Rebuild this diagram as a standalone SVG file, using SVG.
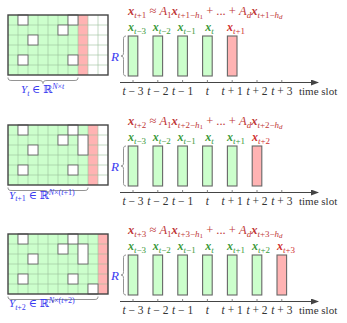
<svg xmlns="http://www.w3.org/2000/svg" xmlns:xlink="http://www.w3.org/1999/xlink" width="347" height="323" viewBox="0 0 347 323">
<style>
.bg{fill:#ffffff}
.green{fill:#ccffcc}
.red{fill:#ffb3b3}
.white{fill:#ffffff}
.gl{fill:none;stroke:#9cc09c;stroke-width:0.6}
.hole{fill:#ffffff;stroke:#666;stroke-width:0.9}
.frame{fill:none;stroke:#444;stroke-width:1.4}
.bar-g{fill:#ccffcc;stroke:#666;stroke-width:1.1}
.bar-r{fill:#ffb3b3;stroke:#666;stroke-width:1.1}
.brace{fill:none;stroke:#888;stroke-width:0.9}
.axis{fill:none;stroke:#444;stroke-width:1.1}
.tick{fill:none;stroke:#666;stroke-width:0.8}
.math{font-family:"Liberation Serif","DejaVu Serif",serif}
.tl{font-size:11.5px;fill:#333;text-anchor:middle}
.ts{font-size:11px;fill:#333}
.fr{font-size:12.5px;fill:#c03838}
.xg{font-size:12px;fill:#3a9a3a;text-anchor:middle}
.xr{font-size:12px;fill:#d03030;text-anchor:middle}
.bl{font-size:11px;fill:#3a3af0}
.rl{font-size:13px;fill:#3a3af0;font-style:italic}
.bx{font-weight:bold;font-style:italic}
.it{font-style:italic}
</style>
<defs>
<marker id="arr" viewBox="0 0 8 6" refX="7" refY="3" markerWidth="8" markerHeight="6" markerUnits="userSpaceOnUse" orient="auto">
<path d="M0,0 L8,3 L0,6 Z" fill="#444"/>
</marker>
<path id="gridlines" d="M18,15V75M28,15V75M38,15V75M48,15V75M58,15V75M68,15V75M78,15V75M88,15V75M98,15V75M8,25H108M8,35H108M8,45H108M8,55H108M8,65H108"/>
<g id="holes">
<rect class="hole" x="18" y="15" width="10" height="10"/>
<rect class="hole" x="68" y="15" width="10" height="10"/>
<rect class="hole" x="58" y="25" width="10" height="10"/>
<rect class="hole" x="28" y="35" width="10" height="10"/>
<rect class="hole" x="18" y="55" width="10" height="10"/>
<rect class="hole" x="68" y="55" width="10" height="10"/>
</g>
<path id="rbrace" d="M126,36 C123.5,36 123.5,37.5 123.5,40 L123.5,52.5 C123.5,55 122.8,56 121,56 C122.8,56 123.5,57 123.5,59.5 L123.5,72 C123.5,74.5 123.5,76 126,76"/>
<g id="ticks">
<path class="tick" d="M133,80V83M157.8,80V83M182.6,80V83M207.4,80V83M232.2,80V83M257,80V83M281.8,80V83"/>
<text class="math tl" y="95"><tspan x="133"><tspan class="it">t</tspan> − 3</tspan><tspan x="157.8"><tspan class="it">t</tspan> − 2</tspan><tspan x="182.6"><tspan class="it">t</tspan> − 1</tspan><tspan x="207.4" class="it">t</tspan><tspan x="232.2"><tspan class="it">t</tspan> + 1</tspan><tspan x="257"><tspan class="it">t</tspan> + 2</tspan><tspan x="281.8"><tspan class="it">t</tspan> + 3</tspan></text>
<text class="math ts" x="299" y="95">time slot</text>
</g>
</defs>
<rect class="bg" x="0" y="0" width="347" height="323"/>

<!-- Panel 1 -->
<g id="panel1">
<g id="grid1">
<rect class="green" x="8" y="15" width="70" height="60"/>
<rect class="red" x="78" y="15" width="10" height="60"/>
<rect class="white" x="88" y="15" width="20" height="60"/>
<use xlink:href="#gridlines" class="gl"/>
<use xlink:href="#holes"/>
<rect class="frame" x="8" y="15" width="100" height="60"/>
</g>
<g id="ylabel1">
<path class="brace" d="M8,77.5 C8,80 9,80.5 12,80.5 L39,80.5 C42,80.5 43,81.5 43,83.5 C43,81.5 44,80.5 47,80.5 L74,80.5 C77,80.5 78,80 78,77.5"/>
<text class="math bl" x="21" y="93"><tspan class="it">Y</tspan><tspan class="it" font-size="8" dy="2.5">t</tspan><tspan dy="-2.5"> ∈ ℝ</tspan><tspan class="it" font-size="8" dy="-4">N</tspan><tspan font-size="8">×</tspan><tspan class="it" font-size="8">t</tspan></text>
</g>
<g id="formula1">
<text class="math fr" x="128" y="15"><tspan class="bx">x</tspan><tspan class="it" font-size="9" dy="2.5">t</tspan><tspan font-size="9">+1</tspan><tspan dy="-2.5"> ≈ </tspan><tspan class="it">A</tspan><tspan font-size="9" dy="2.5">1</tspan><tspan class="bx" dy="-2.5">x</tspan><tspan class="it" font-size="9" dy="2.5">t</tspan><tspan font-size="9">+1−</tspan><tspan class="it" font-size="9">h</tspan><tspan font-size="7" dy="1.2">1</tspan><tspan dy="-3.7"> + ... + </tspan><tspan class="it">A</tspan><tspan class="it" font-size="9" dy="2.5">d</tspan><tspan class="bx" dy="-2.5">x</tspan><tspan class="it" font-size="9" dy="2.5">t</tspan><tspan font-size="9">+1−</tspan><tspan class="it" font-size="9">h</tspan><tspan class="it" font-size="7" dy="1.2">d</tspan></text>
</g>
<g id="R1">
<text class="math rl" x="111" y="60.5">R</text>
<use xlink:href="#rbrace" class="brace"/>
</g>
<g id="bars1">
<rect class="bar-g" x="128.2" y="36" width="9.6" height="40"/>
<rect class="bar-g" x="153" y="36" width="9.6" height="40"/>
<rect class="bar-g" x="177.8" y="36" width="9.6" height="40"/>
<rect class="bar-g" x="202.6" y="36" width="9.6" height="40"/>
<rect class="bar-r" x="227.4" y="36" width="9.6" height="40"/>
<text class="math xg" y="31"><tspan x="137"><tspan class="bx">x</tspan><tspan class="it" font-size="9" dy="2.5">t</tspan><tspan font-size="9">−3</tspan></tspan><tspan x="161.8" dy="-2.5"><tspan class="bx">x</tspan><tspan class="it" font-size="9" dy="2.5">t</tspan><tspan font-size="9">−2</tspan></tspan><tspan x="186.6" dy="-2.5"><tspan class="bx">x</tspan><tspan class="it" font-size="9" dy="2.5">t</tspan><tspan font-size="9">−1</tspan></tspan><tspan x="209.5" dy="-2.5"><tspan class="bx">x</tspan><tspan class="it" font-size="9" dy="2.5">t</tspan></tspan></text>
<text class="math xr" y="31"><tspan x="236"><tspan class="bx">x</tspan><tspan class="it" font-size="9" dy="2.5">t</tspan><tspan font-size="9">+1</tspan></tspan></text>
</g>
</g>

<!-- Panel 2 -->
<g id="panel2" transform="translate(0,110)">
<g id="grid2">
<rect class="green" x="8" y="15" width="80" height="60"/>
<rect class="red" x="88" y="15" width="10" height="60"/>
<rect class="white" x="98" y="15" width="10" height="60"/>
<use xlink:href="#gridlines" class="gl"/>
<use xlink:href="#holes"/>
<rect class="hole" x="78" y="25" width="10" height="20"/>
<rect class="frame" x="8" y="15" width="100" height="60"/>
</g>
<g id="ylabel2">
<path class="brace" d="M8,77.5 C8,80 9,80.5 12,80.5 L44,80.5 C47,80.5 48,81.5 48,83.5 C48,81.5 49,80.5 52,80.5 L84,80.5 C87,80.5 88,80 88,77.5"/>
<text class="math bl" x="9" y="88.5"><tspan class="it">Y</tspan><tspan class="it" font-size="8" dy="2.5">t</tspan><tspan font-size="8">+1</tspan><tspan dy="-2.5"> ∈ ℝ</tspan><tspan class="it" font-size="8" dy="-4">N</tspan><tspan font-size="8">×(</tspan><tspan class="it" font-size="8">t</tspan><tspan font-size="8">+1)</tspan></text>
</g>
<g id="formula2">
<text class="math fr" x="128" y="15"><tspan class="bx">x</tspan><tspan class="it" font-size="9" dy="2.5">t</tspan><tspan font-size="9">+2</tspan><tspan dy="-2.5"> ≈ </tspan><tspan class="it">A</tspan><tspan font-size="9" dy="2.5">1</tspan><tspan class="bx" dy="-2.5">x</tspan><tspan class="it" font-size="9" dy="2.5">t</tspan><tspan font-size="9">+2−</tspan><tspan class="it" font-size="9">h</tspan><tspan font-size="7" dy="1.2">1</tspan><tspan dy="-3.7"> + ... + </tspan><tspan class="it">A</tspan><tspan class="it" font-size="9" dy="2.5">d</tspan><tspan class="bx" dy="-2.5">x</tspan><tspan class="it" font-size="9" dy="2.5">t</tspan><tspan font-size="9">+2−</tspan><tspan class="it" font-size="9">h</tspan><tspan class="it" font-size="7" dy="1.2">d</tspan></text>
</g>
<g id="R2">
<text class="math rl" x="111" y="60.5">R</text>
<use xlink:href="#rbrace" class="brace"/>
</g>
<g id="bars2">
<rect class="bar-g" x="128.2" y="36" width="9.6" height="40"/>
<rect class="bar-g" x="153" y="36" width="9.6" height="40"/>
<rect class="bar-g" x="177.8" y="36" width="9.6" height="40"/>
<rect class="bar-g" x="202.6" y="36" width="9.6" height="40"/>
<rect class="bar-g" x="227.4" y="36" width="9.6" height="40"/>
<rect class="bar-r" x="252.2" y="36" width="9.6" height="40"/>
<text class="math xg" y="31"><tspan x="137"><tspan class="bx">x</tspan><tspan class="it" font-size="9" dy="2.5">t</tspan><tspan font-size="9">−3</tspan></tspan><tspan x="161.8" dy="-2.5"><tspan class="bx">x</tspan><tspan class="it" font-size="9" dy="2.5">t</tspan><tspan font-size="9">−2</tspan></tspan><tspan x="186.6" dy="-2.5"><tspan class="bx">x</tspan><tspan class="it" font-size="9" dy="2.5">t</tspan><tspan font-size="9">−1</tspan></tspan><tspan x="209.5" dy="-2.5"><tspan class="bx">x</tspan><tspan class="it" font-size="9" dy="2.5">t</tspan></tspan><tspan x="236" dy="-2.5"><tspan class="bx">x</tspan><tspan class="it" font-size="9" dy="2.5">t</tspan><tspan font-size="9">+1</tspan></tspan></text>
<text class="math xr" y="31"><tspan x="261"><tspan class="bx">x</tspan><tspan class="it" font-size="9" dy="2.5">t</tspan><tspan font-size="9">+2</tspan></tspan></text>
</g>
</g>

<!-- Panel 3 -->
<g id="panel3" transform="translate(0,219)">
<g id="grid3">
<rect class="green" x="8" y="15" width="90" height="60"/>
<rect class="red" x="98" y="15" width="10" height="60"/>
<use xlink:href="#gridlines" class="gl"/>
<use xlink:href="#holes"/>
<rect class="hole" x="78" y="25" width="10" height="20"/>
<rect class="hole" x="88" y="65" width="10" height="10"/>
<rect class="frame" x="8" y="15" width="100" height="60"/>
</g>
<g id="ylabel3">
<path class="brace" d="M8,77.5 C8,80 9,80.5 12,80.5 L49,80.5 C52,80.5 53,81.5 53,83.5 C53,81.5 54,80.5 57,80.5 L94,80.5 C97,80.5 98,80 98,77.5"/>
<text class="math bl" x="9" y="88"><tspan class="it">Y</tspan><tspan class="it" font-size="8" dy="2.5">t</tspan><tspan font-size="8">+2</tspan><tspan dy="-2.5"> ∈ ℝ</tspan><tspan class="it" font-size="8" dy="-4">N</tspan><tspan font-size="8">×(</tspan><tspan class="it" font-size="8">t</tspan><tspan font-size="8">+2)</tspan></text>
</g>
<g id="formula3">
<text class="math fr" x="128" y="15"><tspan class="bx">x</tspan><tspan class="it" font-size="9" dy="2.5">t</tspan><tspan font-size="9">+3</tspan><tspan dy="-2.5"> ≈ </tspan><tspan class="it">A</tspan><tspan font-size="9" dy="2.5">1</tspan><tspan class="bx" dy="-2.5">x</tspan><tspan class="it" font-size="9" dy="2.5">t</tspan><tspan font-size="9">+3−</tspan><tspan class="it" font-size="9">h</tspan><tspan font-size="7" dy="1.2">1</tspan><tspan dy="-3.7"> + ... + </tspan><tspan class="it">A</tspan><tspan class="it" font-size="9" dy="2.5">d</tspan><tspan class="bx" dy="-2.5">x</tspan><tspan class="it" font-size="9" dy="2.5">t</tspan><tspan font-size="9">+3−</tspan><tspan class="it" font-size="9">h</tspan><tspan class="it" font-size="7" dy="1.2">d</tspan></text>
</g>
<g id="R3">
<text class="math rl" x="111" y="60.5">R</text>
<use xlink:href="#rbrace" class="brace"/>
</g>
<g id="bars3">
<rect class="bar-g" x="128.2" y="36" width="9.6" height="40"/>
<rect class="bar-g" x="153" y="36" width="9.6" height="40"/>
<rect class="bar-g" x="177.8" y="36" width="9.6" height="40"/>
<rect class="bar-g" x="202.6" y="36" width="9.6" height="40"/>
<rect class="bar-g" x="227.4" y="36" width="9.6" height="40"/>
<rect class="bar-g" x="252.2" y="36" width="9.6" height="40"/>
<rect class="bar-r" x="277" y="36" width="9.6" height="40"/>
<text class="math xg" y="31"><tspan x="137"><tspan class="bx">x</tspan><tspan class="it" font-size="9" dy="2.5">t</tspan><tspan font-size="9">−3</tspan></tspan><tspan x="161.8" dy="-2.5"><tspan class="bx">x</tspan><tspan class="it" font-size="9" dy="2.5">t</tspan><tspan font-size="9">−2</tspan></tspan><tspan x="186.6" dy="-2.5"><tspan class="bx">x</tspan><tspan class="it" font-size="9" dy="2.5">t</tspan><tspan font-size="9">−1</tspan></tspan><tspan x="209.5" dy="-2.5"><tspan class="bx">x</tspan><tspan class="it" font-size="9" dy="2.5">t</tspan></tspan><tspan x="236" dy="-2.5"><tspan class="bx">x</tspan><tspan class="it" font-size="9" dy="2.5">t</tspan><tspan font-size="9">+1</tspan></tspan><tspan x="261" dy="-2.5"><tspan class="bx">x</tspan><tspan class="it" font-size="9" dy="2.5">t</tspan><tspan font-size="9">+2</tspan></tspan></text>
<text class="math xr" y="31"><tspan x="286"><tspan class="bx">x</tspan><tspan class="it" font-size="9" dy="2.5">t</tspan><tspan font-size="9">+3</tspan></tspan></text>
</g>
</g>

<!-- Connectors: time axes -->
<g id="connectors">
<path class="axis" d="M120,82.5H318" marker-end="url(#arr)"/>
<path class="axis" d="M120,192.5H318" marker-end="url(#arr)"/>
<path class="axis" d="M120,301.5H318" marker-end="url(#arr)"/>
</g>
<g id="axislabels">
<use xlink:href="#ticks"/>
<use xlink:href="#ticks" y="110"/>
<use xlink:href="#ticks" y="219"/>
</g>
</svg>
